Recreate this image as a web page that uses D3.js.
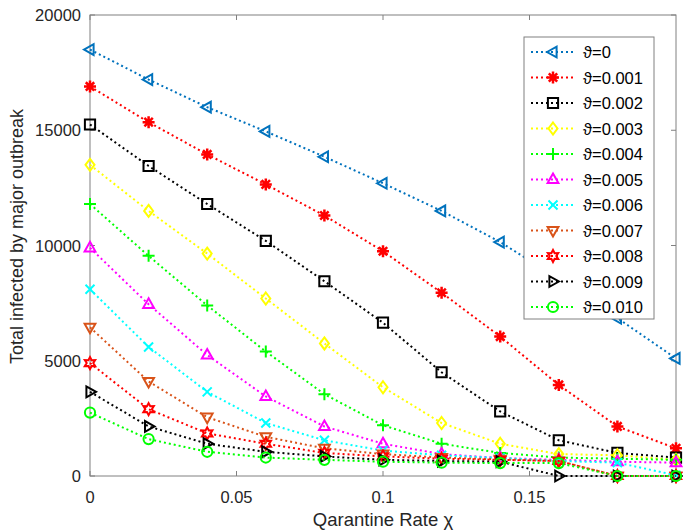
<!DOCTYPE html>
<html>
<head>
<meta charset="utf-8">
<script src="https://cdn.jsdelivr.net/npm/d3@7"></script>
<style>
  body { margin: 0; background: #fff; }
  svg { display: block; font-family: "Liberation Sans", Arial, sans-serif; }
</style>
</head>
<body>
<svg id="chart" width="683" height="531"></svg>
<script>
// quarantine rate (x values)
const rates = [0, 0.02, 0.04, 0.06, 0.08, 0.1, 0.12, 0.14, 0.16, 0.18, 0.2];

const thetaLabels = ['ϑ=0', 'ϑ=0.001', 'ϑ=0.002', 'ϑ=0.003', 'ϑ=0.004', 'ϑ=0.005',
                     'ϑ=0.006', 'ϑ=0.007', 'ϑ=0.008', 'ϑ=0.009', 'ϑ=0.010'];

// total infected, one row per theta
const s0    = [18500, 17200, 16000, 14950, 13850, 12700, 11500, 10150, 8550, 6850, 5100];
const s0001 = [16900, 15350, 13950, 12650, 11300, 9750, 7950, 6050, 3950, 2150, 1200];
const s0002 = [15250, 13450, 11800, 10200, 8450, 6650, 4500, 2800, 1550, 1000, 800];
const s0003 = [13500, 11500, 9650, 7700, 5750, 3850, 2300, 1400, 950, 900, 700];
const s0004 = [11800, 9550, 7400, 5400, 3550, 2200, 1400, 1000, 800, 750, 700];
const s0005 = [9900, 7450, 5250, 3450, 2150, 1400, 950, 780, 700, 620, 580];
const s0006 = [8100, 5600, 3650, 2300, 1550, 1100, 900, 780, 650, 580, 30];
const s0007 = [6450, 4100, 2550, 1700, 1200, 950, 800, 720, 650, 0, 0];
const s0008 = [4900, 2900, 1850, 1400, 1000, 850, 750, 700, 650, 0, 0];
const s0009 = [3650, 2150, 1400, 1050, 850, 700, 650, 620, 0, 0, 0];
const s0010 = [2750, 1600, 1050, 800, 700, 620, 580, 560, 560, 0, 0];

const allSeries = [s0, s0001, s0002, s0003, s0004, s0005, s0006, s0007, s0008, s0009, s0010];

const colors = ['#0072BD', '#FF0000', '#000000', '#FFFF00', '#00FF00', '#FF00FF',
                '#00FFFF', '#D95319', '#FF0000', '#000000', '#00FF00'];
const markers = ['<', '*', 's', 'd', '+', '^', 'x', 'v', 'h', '>', 'o'];

const xTicks = [0, 0.05, 0.1, 0.15];
const yTicks = [0, 5000, 10000, 15000, 20000];

const plotLeft = 90, plotRight = 676, plotTop = 15, plotBottom = 476;
const axisColor = '#808080';
const textColor = '#262626';

const svg = d3.select('#chart');

const x = d3.scaleLinear().domain([0, 0.2]).range([plotLeft, plotRight]);
const y = d3.scaleLinear().domain([0, 20000]).range([plotBottom, plotTop]);

// marker path, centred at 0,0
function markerPath(type, r) {
    const p = d3.path();
    if (type === '<' || type === '>' || type === '^' || type === 'v') {
        const rot = {'^': 0, '>': 90, 'v': 180, '<': 270}[type] * Math.PI / 180;
        const pts = [[0, -r], [r * 0.9, r * 0.6], [-r * 0.9, r * 0.6]].map(([a, b]) => [
            a * Math.cos(rot) - b * Math.sin(rot), a * Math.sin(rot) + b * Math.cos(rot)]);
        p.moveTo(pts[0][0], pts[0][1]);
        p.lineTo(pts[1][0], pts[1][1]);
        p.lineTo(pts[2][0], pts[2][1]);
        p.closePath();
    } else if (type === 's') {
        const h = r * 0.85;
        p.rect(-h, -h, 2 * h, 2 * h);
    } else if (type === 'd') {
        p.moveTo(0, -r); p.lineTo(r * 0.75, 0); p.lineTo(0, r); p.lineTo(-r * 0.75, 0); p.closePath();
    } else if (type === 'o') {
        p.arc(0, 0, r * 0.85, 0, 2 * Math.PI);
    } else if (type === '+') {
        p.moveTo(-r, 0); p.lineTo(r, 0); p.moveTo(0, -r); p.lineTo(0, r);
    } else if (type === 'x') {
        const k = r * 0.75;
        p.moveTo(-k, -k); p.lineTo(k, k); p.moveTo(-k, k); p.lineTo(k, -k);
    } else if (type === '*') {
        const k = r * 0.7;
        p.moveTo(-r, 0); p.lineTo(r, 0); p.moveTo(0, -r); p.lineTo(0, r);
        p.moveTo(-k, -k); p.lineTo(k, k); p.moveTo(-k, k); p.lineTo(k, -k);
    } else if (type === 'h') {
        for (let i = 0; i < 12; i++) {
            const a = -Math.PI / 2 + i * Math.PI / 6;
            const rr = i % 2 === 0 ? r : r * 0.55;
            if (i === 0) p.moveTo(rr * Math.cos(a), rr * Math.sin(a));
            else p.lineTo(rr * Math.cos(a), rr * Math.sin(a));
        }
        p.closePath();
    }
    return p.toString();
}

// axes box
svg.append('rect')
    .attr('x', plotLeft).attr('y', plotTop)
    .attr('width', plotRight - plotLeft).attr('height', plotBottom - plotTop)
    .attr('fill', '#fff').attr('stroke', axisColor).attr('stroke-width', 1);

// ticks (inward, on all four sides)
const tickLen = 5;
xTicks.forEach(t => {
    svg.append('line').attr('x1', x(t)).attr('x2', x(t)).attr('y1', plotBottom).attr('y2', plotBottom - tickLen)
        .attr('stroke', axisColor);
    svg.append('line').attr('x1', x(t)).attr('x2', x(t)).attr('y1', plotTop).attr('y2', plotTop + tickLen)
        .attr('stroke', axisColor);
    svg.append('text').attr('x', x(t)).attr('y', plotBottom + 27)
        .attr('text-anchor', 'middle').attr('font-size', 16.5).attr('fill', textColor)
        .text(t);
});
yTicks.forEach(t => {
    svg.append('line').attr('x1', plotLeft).attr('x2', plotLeft + tickLen).attr('y1', y(t)).attr('y2', y(t))
        .attr('stroke', axisColor);
    svg.append('line').attr('x1', plotRight).attr('x2', plotRight - tickLen).attr('y1', y(t)).attr('y2', y(t))
        .attr('stroke', axisColor);
    svg.append('text').attr('x', plotLeft - 9).attr('y', y(t) + 6)
        .attr('text-anchor', 'end').attr('font-size', 16.5).attr('fill', textColor)
        .text(t);
});

// axis labels
svg.append('text').attr('x', 383).attr('y', 526)
    .attr('text-anchor', 'middle').attr('font-size', 18.5).attr('fill', textColor)
    .text('Qarantine Rate χ');
svg.append('text')
    .attr('transform', `translate(23, ${(plotTop + plotBottom) / 2 - 9}) rotate(-90)`)
    .attr('text-anchor', 'middle').attr('font-size', 18).attr('fill', textColor)
    .text('Total infected by major outbreak');

// series
const line = d3.line().x((d, i) => x(rates[i])).y(d => y(d));
const plot = svg.append('g');

allSeries.forEach((vals, si) => {
    const g = plot.append('g');
    g.append('path')
        .attr('d', line(vals))
        .attr('fill', 'none')
        .attr('stroke', colors[si])
        .attr('stroke-width', 2)
        .attr('stroke-dasharray', '2,3');
    const filled = markers[si] === '*';
    g.selectAll('path.mark').data(vals).enter().append('path')
        .attr('class', 'mark')
        .attr('transform', (d, i) => `translate(${x(rates[i])},${y(d)})`)
        .attr('d', markerPath(markers[si], 6))
        .attr('fill', 'none')
        .attr('stroke', colors[si])
        .attr('stroke-width', filled ? 2.5 : 2);
});

// legend
const lg = svg.append('g');
lg.append('rect').attr('x', 524).attr('y', 37).attr('width', 130).attr('height', 282)
    .attr('fill', '#fff').attr('stroke', axisColor).attr('stroke-width', 1);
thetaLabels.forEach((lab, i) => {
    const ry = 52 + i * 25.5;
    lg.append('line').attr('x1', 531).attr('x2', 576).attr('y1', ry).attr('y2', ry)
        .attr('stroke', colors[i]).attr('stroke-width', 2).attr('stroke-dasharray', '2,3');
    lg.append('path').attr('transform', `translate(553,${ry})`)
        .attr('d', markerPath(markers[i], 6))
        .attr('fill', 'none').attr('stroke', colors[i])
        .attr('stroke-width', markers[i] === '*' ? 2.5 : 2);
    lg.append('text').attr('x', 583).attr('y', ry + 6)
        .attr('font-size', 16.5).attr('fill', '#000')
        .text(lab);
});
</script>
</body>
</html>
